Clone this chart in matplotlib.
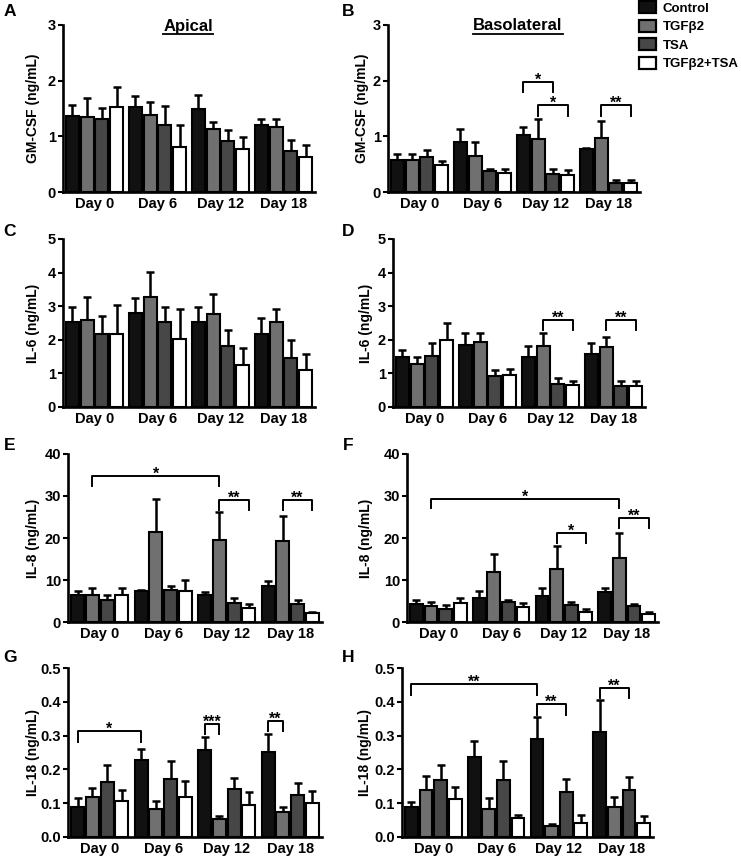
import matplotlib
matplotlib.use('Agg')
import matplotlib.pyplot as plt
import numpy as np
from matplotlib.patches import Patch
from matplotlib.lines import Line2D

plt.rcParams['font.family'] = ['Liberation Sans', 'DejaVu Sans']
plt.rcParams['font.weight'] = 'bold'

days = ['Day 0', 'Day 6', 'Day 12', 'Day 18']
treatments = ['Control', 'TGFβ2', 'TSA', 'TGFβ2+TSA']
colors = ['#111111', '#707070', '#474747', '#ffffff']

# ---- data (mean, SEM) per panel, order: Control, TGFb2, TSA, TGFb2+TSA ----
# A: GM-CSF apical
A_mean = [[1.37, 1.52, 1.50, 1.21], [1.35, 1.38, 1.13, 1.17],
          [1.32, 1.20, 0.91, 0.74], [1.53, 0.80, 0.77, 0.63]]
A_err = [[0.20, 0.21, 0.24, 0.10], [0.34, 0.23, 0.12, 0.15],
         [0.19, 0.34, 0.20, 0.19], [0.36, 0.40, 0.22, 0.21]]
# B: GM-CSF basolateral
B_mean = [[0.57, 0.89, 1.02, 0.77], [0.58, 0.65, 0.96, 0.97],
          [0.62, 0.37, 0.32, 0.16], [0.49, 0.35, 0.30, 0.16]]
B_err = [[0.12, 0.24, 0.15, 0.02], [0.10, 0.24, 0.36, 0.31],
         [0.13, 0.05, 0.10, 0.06], [0.06, 0.07, 0.09, 0.06]]
# C: IL-6 apical
C_mean = [[2.52, 2.81, 2.54, 2.18], [2.59, 3.27, 2.76, 2.54],
          [2.18, 2.52, 1.83, 1.45], [2.18, 2.02, 1.26, 1.09]]
C_err = [[0.47, 0.42, 0.45, 0.46], [0.67, 0.74, 0.60, 0.38],
         [0.54, 0.45, 0.47, 0.55], [0.86, 0.90, 0.49, 0.49]]
# D: IL-6 basolateral
D_mean = [[1.50, 1.86, 1.48, 1.59], [1.29, 1.92, 1.83, 1.78],
          [1.51, 0.91, 0.68, 0.62], [2.00, 0.94, 0.64, 0.62]]
D_err = [[0.21, 0.34, 0.35, 0.31], [0.19, 0.28, 0.37, 0.29],
         [0.39, 0.20, 0.17, 0.16], [0.50, 0.19, 0.14, 0.16]]
# E: IL-8 apical
E_mean = [[6.4, 7.3, 6.4, 8.6], [6.4, 21.4, 19.5, 19.4],
          [5.3, 7.6, 4.5, 4.4], [6.4, 7.4, 3.3, 2.2]]
E_err = [[1.0, 0.3, 0.8, 1.2], [1.8, 7.8, 6.6, 5.9],
         [1.2, 1.0, 1.2, 0.9], [1.8, 2.7, 1.1, 0.3]]
# F: IL-8 basolateral
F_mean = [[4.3, 5.7, 6.1, 7.1], [3.7, 11.9, 12.7, 15.3],
          [3.1, 4.8, 4.0, 3.7], [4.5, 3.5, 2.4, 2.0]]
F_err = [[0.9, 1.6, 2.0, 1.0], [1.1, 4.2, 5.4, 6.0],
         [0.9, 0.5, 0.7, 0.5], [1.3, 1.1, 0.6, 0.4]]
# G: IL-18 apical
G_mean = [[0.089, 0.229, 0.256, 0.251], [0.118, 0.084, 0.053, 0.073],
          [0.162, 0.173, 0.143, 0.123], [0.107, 0.117, 0.096, 0.101]]
G_err = [[0.026, 0.031, 0.039, 0.055], [0.027, 0.023, 0.010, 0.015],
         [0.050, 0.051, 0.032, 0.037], [0.032, 0.050, 0.037, 0.034]]
# H: IL-18 basolateral
H_mean = [[0.088, 0.237, 0.290, 0.310], [0.140, 0.084, 0.034, 0.088],
          [0.170, 0.170, 0.133, 0.140], [0.113, 0.055, 0.040, 0.040]]
H_err = [[0.015, 0.048, 0.065, 0.094], [0.040, 0.031, 0.004, 0.030],
         [0.042, 0.056, 0.039, 0.037], [0.034, 0.011, 0.026, 0.023]]

# significance brackets: (day1, treatment1, day2, treatment2, y_top, y_leg, label)
B_sig = [(2, 0, 2, 2, 1.98, 1.80, '*'), (2, 1, 2, 3, 1.56, 1.37, '*'),
         (3, 1, 3, 3, 1.56, 1.37, '**')]
D_sig = [(2, 1, 2, 3, 2.58, 2.28, '**'), (3, 1, 3, 3, 2.58, 2.28, '**')]
E_sig = [(0, 1, 2, 1, 34.8, 32.4, '*'), (2, 1, 2, 3, 29.1, 26.7, '**'),
         (3, 1, 3, 3, 29.1, 26.7, '**')]
F_sig = [(0, 1, 3, 1, 29.3, 27.2, '*'), (2, 1, 2, 3, 21.1, 18.9, '*'),
         (3, 1, 3, 3, 24.7, 22.5, '**')]
G_sig = [(0, 0, 1, 0, 0.313, 0.281, '*'), (2, 0, 2, 1, 0.334, 0.306, '***'),
         (3, 0, 3, 1, 0.344, 0.313, '**')]
H_sig = [(0, 0, 2, 0, 0.453, 0.421, '**'), (2, 0, 2, 2, 0.393, 0.362, '**'),
         (3, 0, 3, 2, 0.441, 0.411, '**')]

W, H = 741, 861
fig = plt.figure(figsize=(W / 100, H / 100), dpi=100)

SLOT = 0.233
BW = 0.205


def xpos(day, tr):
    return day + 0.5 + (tr - 1.5) * SLOT


panels = [
    ('A', 63, 315, 25, 192, 33, A_mean, A_err, 3, [0, 1, 2, 3], '{:g}', [], 'GM-CSF (ng/mL)'),
    ('B', 388, 640, 25, 192, 362, B_mean, B_err, 3, [0, 1, 2, 3], '{:g}', B_sig, 'GM-CSF (ng/mL)'),
    ('C', 63, 315, 239, 407, 33, C_mean, C_err, 5, [0, 1, 2, 3, 4, 5], '{:g}', [], 'IL-6 (ng/mL)'),
    ('D', 393, 645, 239, 407, 366, D_mean, D_err, 5, [0, 1, 2, 3, 4, 5], '{:g}', D_sig, 'IL-6 (ng/mL)'),
    ('E', 68, 322, 454, 622, 33, E_mean, E_err, 40, [0, 10, 20, 30, 40], '{:g}', E_sig, 'IL-8 (ng/mL)'),
    ('F', 407, 658, 454, 622, 366, F_mean, F_err, 40, [0, 10, 20, 30, 40], '{:g}', F_sig, 'IL-8 (ng/mL)'),
    ('G', 68, 322, 668, 837, 33, G_mean, G_err, 0.5, [0, 0.1, 0.2, 0.3, 0.4, 0.5], '{:.1f}', G_sig, 'IL-18 (ng/mL)'),
    ('H', 402, 653, 668, 837, 365, H_mean, H_err, 0.5, [0, 0.1, 0.2, 0.3, 0.4, 0.5], '{:.1f}', H_sig, 'IL-18 (ng/mL)'),
]

letter_pos = {'A': (10, 12), 'B': (348, 12), 'C': (9, 232), 'D': (348, 232),
              'E': (10, 446), 'F': (348, 446), 'G': (10, 657), 'H': (348, 657)}

for (letter, l, r, t, b, ylx, means, errs, ymax, yticks, fmt, sig, ylabel) in panels:
    ax = fig.add_axes([l / W, 1 - b / H, (r - l) / W, (b - t) / H])
    for i in range(4):
        x = [xpos(d, i) for d in range(4)]
        ax.bar(x, means[i], width=BW, color=colors[i], edgecolor='black',
               linewidth=1.5, zorder=3)
        ax.errorbar(x, means[i], yerr=[np.zeros(4), errs[i]], fmt='none',
                    ecolor='black', elinewidth=1.8, capsize=3, capthick=1.8, zorder=2)
    for (d1, t1, d2, t2, yt, yb, lab) in sig:
        x1, x2 = xpos(d1, t1), xpos(d2, t2)
        ax.plot([x1, x1, x2, x2], [yb, yt, yt, yb], color='black', lw=1.4,
                clip_on=False, zorder=4)
        ax.annotate(lab, ((x1 + x2) / 2, yt), xytext=(0, -2), textcoords='offset points',
                    ha='center', va='baseline', fontsize=11.5, fontweight='bold',
                    annotation_clip=False)
    ax.set_xlim(0, 4)
    ax.set_ylim(0, ymax)
    ax.set_xticks([d + 0.5 for d in range(4)])
    ax.set_xticklabels(days, fontsize=10.5, fontweight='bold')
    ax.set_yticks(yticks)
    ax.set_yticklabels([fmt.format(v) for v in yticks], fontsize=10.5, fontweight='bold')
    ax.tick_params(axis='x', length=0, pad=3.5)
    ax.tick_params(axis='y', length=3.5, width=1.5, pad=1.5)
    for s in ['top', 'right']:
        ax.spines[s].set_visible(False)
    for s in ['left', 'bottom']:
        ax.spines[s].set_linewidth(1.9)
    ax.set_facecolor('none')
    fig.text(ylx / W, 1 - ((t + b) / 2) / H, ylabel, rotation=90, ha='center',
             va='center', fontsize=10, fontweight='bold')
    lx, ly = letter_pos[letter]
    fig.text(lx / W, 1 - ly / H, letter, ha='center', va='center', fontsize=12.5,
             fontweight='bold')

# titles with underline
titles = [('Apical', 188, 26), ('Basolateral', 518, 26)]
tobjs = []
for txt, cx, cy in titles:
    tobjs.append(fig.text(cx / W, 1 - cy / H, txt, ha='center', va='center',
                          fontsize=12, fontweight='bold'))
fig.canvas.draw()
for tobj in tobjs:
    bb = tobj.get_window_extent().transformed(fig.transFigure.inverted())
    yline = 1 - 33.5 / H
    fig.add_artist(Line2D([bb.x0, bb.x1], [yline, yline], transform=fig.transFigure,
                          color='black', lw=1.3))

handles = [Patch(facecolor=c, edgecolor='black', linewidth=1.6) for c in colors]
fig.legend(handles, treatments, loc='upper left', bbox_to_anchor=(639 / W, 1 - 1.5 / H),
           frameon=False, handlelength=1.3, handleheight=1.0,
           labelspacing=0.38, handletextpad=0.5, borderpad=0.0, borderaxespad=0.0,
           prop={'weight': 'bold', 'size': 9.5})

fig.savefig('out.png', dpi=100)
